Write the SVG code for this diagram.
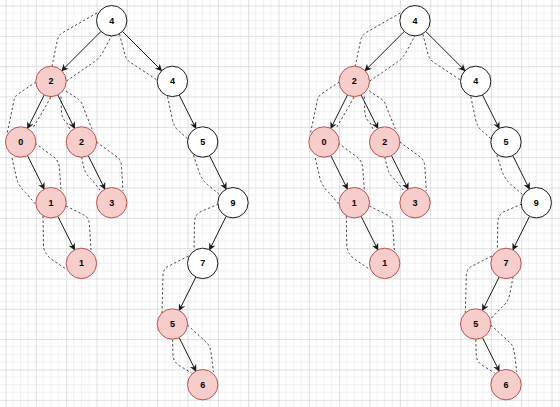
<svg xmlns="http://www.w3.org/2000/svg" width="560" height="407" viewBox="0 0 560 407">
<defs>
<style>
.pk{fill:#f8cecc;stroke:#b85450;stroke-width:1}
.wh{fill:#ffffff;stroke:#1a1a1a;stroke-width:1}
.lb{font-family:"Liberation Sans",Helvetica,Arial,sans-serif;font-size:9px;font-weight:bold;fill:#000;text-anchor:middle;dominant-baseline:central}
.ar{stroke:#1a1a1a;stroke-width:1;fill:none;marker-end:url(#ah)}
.dd{stroke:#333;stroke-width:0.9;fill:none;stroke-dasharray:2.3 2.3}
</style>
<marker id="ah" viewBox="0 0 10 10" refX="9" refY="5" markerWidth="7" markerHeight="7" markerUnits="userSpaceOnUse" orient="auto">
<path d="M0,0 L10,5 L0,10 L3,5 z" fill="#1a1a1a"/>
</marker>
<pattern id="grid" x="5.5" y="5.5" width="30.333" height="30.333" patternUnits="userSpaceOnUse">
<path d="M7.583,0 V30.333 M15.167,0 V30.333 M22.75,0 V30.333 M0,7.583 H30.333 M0,15.167 H30.333 M0,22.75 H30.333" stroke="#ececec" stroke-width="0.8"/>
<path d="M0.4,0 V30.333 M0,0.4 H30.333" stroke="#d4d4d4" stroke-width="0.8"/>
</pattern>
</defs>
<rect width="560" height="407" fill="#ffffff"/>
<rect width="560" height="407" fill="url(#grid)"/>

<g id="connectors">
<g id="left-connectors">
<line class="ar" x1="100.95" y1="31.45" x2="61.75" y2="70.65"/>
<line class="ar" x1="122.45" y1="31.45" x2="161.65" y2="70.65"/>
<line class="ar" x1="44.2" y1="95" x2="27.5" y2="128.4"/>
<line class="ar" x1="57.8" y1="95" x2="74.6" y2="128.4"/>
<line class="ar" x1="27.5" y1="155.6" x2="44.2" y2="189.1"/>
<line class="ar" x1="88.2" y1="155.6" x2="104.9" y2="189.1"/>
<line class="ar" x1="57.8" y1="216.3" x2="74.6" y2="249.8"/>
<line class="ar" x1="179.2" y1="95" x2="195.9" y2="128.4"/>
<line class="ar" x1="209.5" y1="155.6" x2="226.2" y2="189.1"/>
<line class="ar" x1="226.2" y1="216.3" x2="209.5" y2="249.8"/>
<line class="ar" x1="195.9" y1="277" x2="179.2" y2="310.4"/>
<line class="ar" x1="179.2" y1="337.6" x2="195.9" y2="371.1"/>
<path class="dd" d="M97,13 L62,33 Q58,36 57,42 L52,66"/>
<path class="dd" d="M66.5,81 L94,62 Q100,58 104,50 L111.5,36"/>
<path class="dd" d="M119.5,34 L125,55 Q127,61 133,64 L157,80"/>
<path class="dd" d="M167.5,96.5 L172,118 Q174,128 180,132 L188,139"/>
<path class="dd" d="M193.5,155 L199,172 Q202,180 208,185 L220,195"/>
<path class="dd" d="M218.5,204 L200,212 Q195,215 194.5,222 L194,250"/>
<path class="dd" d="M188.5,256 L167,267 Q163,270 163,276 L162,313"/>
<path class="dd" d="M187.5,325 L207,343 Q210,346 211,352 L213.5,372"/>
<path class="dd" d="M172.5,339.5 L173,356 Q173.5,362 180,366 L191.5,373"/>
<path class="dd" d="M36,82 L18,94 Q14,97 13.5,103 L7,134"/>
<path class="dd" d="M33.5,127 L43,111 Q47,104 51,96.5"/>
<path class="dd" d="M61,96.5 L61.5,112 Q62,119 67,123 L70.5,131"/>
<path class="dd" d="M66,91 L78,99 Q82,102 83.5,108 L92,129"/>
<path class="dd" d="M81.5,157 L84,168 Q86,175 92,180 L100,190"/>
<path class="dd" d="M96.5,142 L117,157 Q121,160 121.5,166 L123,191"/>
<path class="dd" d="M12,158 L17,180 Q20,188 27,194 L37,206"/>
<path class="dd" d="M35,143 L55,158 Q59,162 59.5,168 L61,190"/>
<path class="dd" d="M43,216 L43.5,246 Q44,253 51,259 L66,269"/>
<path class="dd" d="M66,206 L86,216 Q89,219 89.5,225 L91,250"/>
</g>
<g id="right-connectors" transform="translate(303.3,0)">
<line class="ar" x1="100.95" y1="31.45" x2="61.75" y2="70.65"/>
<line class="ar" x1="122.45" y1="31.45" x2="161.65" y2="70.65"/>
<line class="ar" x1="44.2" y1="95" x2="27.5" y2="128.4"/>
<line class="ar" x1="57.8" y1="95" x2="74.6" y2="128.4"/>
<line class="ar" x1="27.5" y1="155.6" x2="44.2" y2="189.1"/>
<line class="ar" x1="88.2" y1="155.6" x2="104.9" y2="189.1"/>
<line class="ar" x1="57.8" y1="216.3" x2="74.6" y2="249.8"/>
<line class="ar" x1="179.2" y1="95" x2="195.9" y2="128.4"/>
<line class="ar" x1="209.5" y1="155.6" x2="226.2" y2="189.1"/>
<line class="ar" x1="226.2" y1="216.3" x2="209.5" y2="249.8"/>
<line class="ar" x1="195.9" y1="277" x2="179.2" y2="310.4"/>
<line class="ar" x1="179.2" y1="337.6" x2="195.9" y2="371.1"/>
<path class="dd" d="M97,13 L62,33 Q58,36 57,42 L52,66"/>
<path class="dd" d="M66.5,81 L94,62 Q100,58 104,50 L111.5,36"/>
<path class="dd" d="M119.5,34 L125,55 Q127,61 133,64 L157,80"/>
<path class="dd" d="M167.5,96.5 L172,118 Q174,128 180,132 L188,139"/>
<path class="dd" d="M193.5,155 L199,172 Q202,180 208,185 L220,195"/>
<path class="dd" d="M218.5,204 L200,212 Q195,215 194.5,222 L194,250"/>
<path class="dd" d="M188.5,256 L167,267 Q163,270 163,276 L162,313"/>
<path class="dd" d="M188.2,318 L202.7,303 Q205.7,299 206.7,293 L209.7,277"/>
<path class="dd" d="M187.5,325 L207,343 Q210,346 211,352 L213.5,372"/>
<path class="dd" d="M172.5,339.5 L173,356 Q173.5,362 180,366 L191.5,373"/>
<path class="dd" d="M36,82 L18,94 Q14,97 13.5,103 L7,134"/>
<path class="dd" d="M33.5,127 L43,111 Q47,104 51,96.5"/>
<path class="dd" d="M61,96.5 L61.5,112 Q62,119 67,123 L70.5,131"/>
<path class="dd" d="M66,91 L78,99 Q82,102 83.5,108 L92,129"/>
<path class="dd" d="M81.5,157 L84,168 Q86,175 92,180 L100,190"/>
<path class="dd" d="M96.5,142 L117,157 Q121,160 121.5,166 L123,191"/>
<path class="dd" d="M12,158 L17,180 Q20,188 27,194 L37,206"/>
<path class="dd" d="M35,143 L55,158 Q59,162 59.5,168 L61,190"/>
<path class="dd" d="M43,216 L43.5,246 Q44,253 51,259 L66,269"/>
<path class="dd" d="M66,206 L86,216 Q89,219 89.5,225 L91,250"/>
</g>
</g>

<g id="L-root4"><circle class="wh" cx="111.7" cy="20.7" r="15.2"/><text class="lb" x="111.7" y="20.7">4</text></g>
<g id="L-n2"><circle class="pk" cx="51" cy="81.4" r="15.2"/><text class="lb" x="51" y="81.4">2</text></g>
<g id="L-n4"><circle class="wh" cx="172.4" cy="81.4" r="15.2"/><text class="lb" x="172.4" y="81.4">4</text></g>
<g id="L-n0"><circle class="pk" cx="20.7" cy="142" r="15.2"/><text class="lb" x="20.7" y="142">0</text></g>
<g id="L-n2b"><circle class="pk" cx="81.4" cy="142" r="15.2"/><text class="lb" x="81.4" y="142">2</text></g>
<g id="L-n5"><circle class="wh" cx="202.7" cy="142" r="15.2"/><text class="lb" x="202.7" y="142">5</text></g>
<g id="L-n1"><circle class="pk" cx="51" cy="202.7" r="15.2"/><text class="lb" x="51" y="202.7">1</text></g>
<g id="L-n3"><circle class="pk" cx="111.7" cy="202.7" r="15.2"/><text class="lb" x="111.7" y="202.7">3</text></g>
<g id="L-n9"><circle class="wh" cx="233" cy="202.7" r="15.2"/><text class="lb" x="233" y="202.7">9</text></g>
<g id="L-n1b"><circle class="pk" cx="81.4" cy="263.4" r="15.2"/><text class="lb" x="81.4" y="263.4">1</text></g>
<g id="L-n7"><circle class="wh" cx="202.7" cy="263.4" r="15.2"/><text class="lb" x="202.7" y="263.4">7</text></g>
<g id="L-n5b"><circle class="pk" cx="172.4" cy="324" r="15.2"/><text class="lb" x="172.4" y="324">5</text></g>
<g id="L-n6"><circle class="pk" cx="202.7" cy="384.7" r="15.2"/><text class="lb" x="202.7" y="384.7">6</text></g>

<g id="R-root4"><circle class="wh" cx="415" cy="20.7" r="15.2"/><text class="lb" x="415" y="20.7">4</text></g>
<g id="R-n2"><circle class="pk" cx="354.3" cy="81.4" r="15.2"/><text class="lb" x="354.3" y="81.4">2</text></g>
<g id="R-n4"><circle class="wh" cx="475.7" cy="81.4" r="15.2"/><text class="lb" x="475.7" y="81.4">4</text></g>
<g id="R-n0"><circle class="pk" cx="324" cy="142" r="15.2"/><text class="lb" x="324" y="142">0</text></g>
<g id="R-n2b"><circle class="pk" cx="384.7" cy="142" r="15.2"/><text class="lb" x="384.7" y="142">2</text></g>
<g id="R-n5"><circle class="wh" cx="506" cy="142" r="15.2"/><text class="lb" x="506" y="142">5</text></g>
<g id="R-n1"><circle class="pk" cx="354.3" cy="202.7" r="15.2"/><text class="lb" x="354.3" y="202.7">1</text></g>
<g id="R-n3"><circle class="pk" cx="415" cy="202.7" r="15.2"/><text class="lb" x="415" y="202.7">3</text></g>
<g id="R-n9"><circle class="wh" cx="536.3" cy="202.7" r="15.2"/><text class="lb" x="536.3" y="202.7">9</text></g>
<g id="R-n1b"><circle class="pk" cx="384.7" cy="263.4" r="15.2"/><text class="lb" x="384.7" y="263.4">1</text></g>
<g id="R-n7"><circle class="pk" cx="506" cy="263.4" r="15.2"/><text class="lb" x="506" y="263.4">7</text></g>
<g id="R-n5b"><circle class="pk" cx="475.7" cy="324" r="15.2"/><text class="lb" x="475.7" y="324">5</text></g>
<g id="R-n6"><circle class="pk" cx="506" cy="384.7" r="15.2"/><text class="lb" x="506" y="384.7">6</text></g>
</svg>
